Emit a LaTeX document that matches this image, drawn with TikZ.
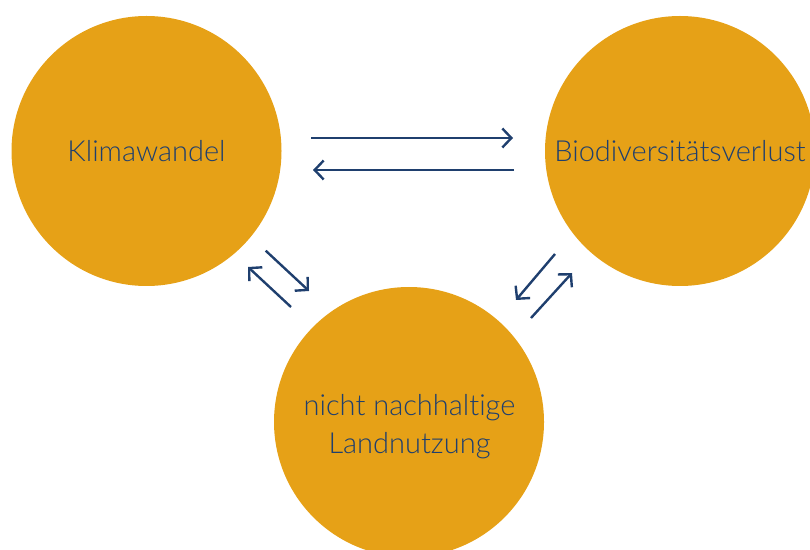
\documentclass[tikz,border=0pt]{standalone}
\usepackage{fontspec}
\setmainfont[Ligatures=CommonOff]{Lato Light}
\usetikzlibrary{arrows.meta,calc}
\definecolor{gold}{HTML}{E6A117}
\definecolor{navy}{HTML}{1F3F6E}
\begin{document}
\begin{tikzpicture}[x=1pt,y=1pt,
  bubble/.style={circle,fill=gold,draw=none,minimum size=270pt,inner sep=0pt,outer sep=0pt,
    text=navy,font=\fontsize{29}{38}\selectfont,align=center},
  txt/.style={text=navy,font=\fontsize{29}{38}\selectfont,align=center,inner sep=0pt},
  arr/.style={draw=navy,line width=2.4pt,-{Straight Barb[length=9pt,width=19pt]}}]
\useasboundingbox (0,0) rectangle (810,549);
\node[bubble] (k) at (146.5,398) {Klimawandel};
\node[bubble] (b) at (680,398) {Biodiversitätsverlust};
\node[bubble] (n) at (409,127) {};
\node[txt] (nt) at ($(n)+(0.5,-5)$) {nicht nachhaltige\\Landnutzung};
\draw[arr] ($(k)+(164.5,13)$) -- ($(b)+(-167,13)$);
\draw[arr] ($(b)+(-166,-19)$) -- ($(k)+(166.5,-19)$);
\draw[arr] ($(k)+(119.2,-99.7)$) -- ($(n)+(-100,131)$);
\draw[arr] ($(n)+(-118,115)$) -- ($(k)+(101.5,-116)$);
\draw[arr] ($(b)+(-125,-103)$) -- ($(n)+(107,122)$);
\draw[arr] ($(n)+(122,104)$) -- ($(b)+(-108,-122)$);
\end{tikzpicture}
\end{document}
